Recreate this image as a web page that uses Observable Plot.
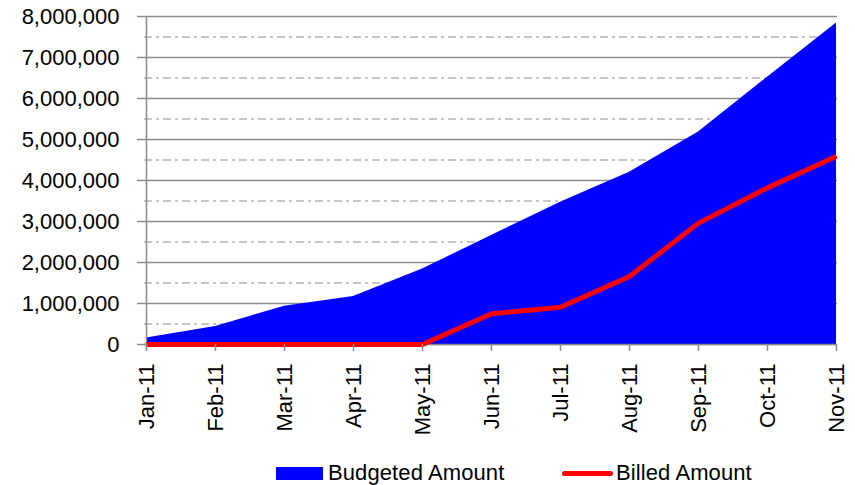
<!DOCTYPE html>
<html>
<head>
<meta charset="utf-8">
<script src="https://cdn.jsdelivr.net/npm/d3@7"></script>
<script src="https://cdn.jsdelivr.net/npm/@observablehq/plot@0.6"></script>
<style>
  html, body { margin: 0; padding: 0; background: #fff; }
  body { width: 855px; height: 485px; overflow: hidden; font-family: "Liberation Sans", Arial, sans-serif; }
  #legend { position: relative; width: 855px; height: 40px; font-size: 22px; color: #000; letter-spacing: 0.1px; }
  #legend .item { position: absolute; top: 8px; height: 40px; display: flex; align-items: center; }
  #legend .sw-area { width: 47px; height: 13px; background: #0000ff; margin-right: 5px; }
  #legend .sw-line { width: 51px; height: 5px; background: #ff0000; border-radius: 3px; margin-right: 3px; }
</style>
</head>
<body>
<div id="chart"></div>
<div id="legend"></div>
<script>
const months = ["Jan-11","Feb-11","Mar-11","Apr-11","May-11","Jun-11","Jul-11","Aug-11","Sep-11","Oct-11","Nov-11"];
const budgeted = [160000, 440000, 930000, 1170000, 1840000, 2660000, 3470000, 4200000, 5180000, 6520000, 7840000];
const billed = [0, 0, 0, 0, 0, 750000, 910000, 1660000, 2960000, 3820000, 4590000];
const majorTicks = [0, 1000000, 2000000, 3000000, 4000000, 5000000, 6000000, 7000000, 8000000];
const minorTicks = [500000, 1500000, 2500000, 3500000, 4500000, 5500000, 6500000, 7500000];
const seriesNames = ["Budgeted Amount", "Billed Amount"];
const seriesColors = ["#0000ff", "#ff0000"];

const data = months.map((m, i) => ({month: m, budgeted: budgeted[i], billed: billed[i]}));

const chart = Plot.plot({
  width: 855,
  height: 445,
  marginTop: 16,
  marginBottom: 101,
  marginLeft: 144,
  marginRight: 18,
  style: {fontFamily: "'Liberation Sans', Arial, sans-serif", fontSize: "22px", color: "#000", background: "#fff"},
  x: {type: "point", domain: months, padding: 0, label: null},
  y: {domain: [0, 8000000], label: null},
  marks: [
    Plot.ruleY(minorTicks, {stroke: "#b4b4b4", strokeWidth: 1.5, strokeDasharray: "8,4,3,4"}),
    Plot.ruleY(majorTicks, {stroke: "#8c8c8c", strokeWidth: 1.5}),
    Plot.areaY(data, {x: "month", y: "budgeted", fill: seriesColors[0]}),
    Plot.ruleX([months[0]], {stroke: "#8c8c8c", strokeWidth: 1.5}),
    Plot.ruleY([0], {stroke: "#8c8c8c", strokeWidth: 1.5}),
    Plot.lineY(data, {x: "month", y: "billed", stroke: seriesColors[1], strokeWidth: 5, strokeLinejoin: "round", strokeLinecap: "butt"}),
    Plot.axisY({ticks: majorTicks, tickFormat: d3.format(","), tickSize: 7, tickPadding: 18, stroke: "#8c8c8c", strokeWidth: 1.5, fill: "#000", fontSize: 22, label: null}),
    Plot.axisX({tickRotate: -90, tickSize: 7, tickPadding: 12, stroke: "#8c8c8c", strokeWidth: 1.5, fill: "#000", fontSize: 22, label: null})
  ]
});
document.getElementById("chart").appendChild(chart);

const legend = document.getElementById("legend");
const positions = [276, 562];
seriesNames.forEach((name, i) => {
  const item = document.createElement("div");
  item.className = "item";
  item.style.left = positions[i] + "px";
  const sw = document.createElement("div");
  sw.className = i === 0 ? "sw-area" : "sw-line";
  sw.style.background = seriesColors[i];
  const t = document.createElement("span");
  t.textContent = name;
  item.appendChild(sw);
  item.appendChild(t);
  legend.appendChild(item);
});
</script>
</body>
</html>
